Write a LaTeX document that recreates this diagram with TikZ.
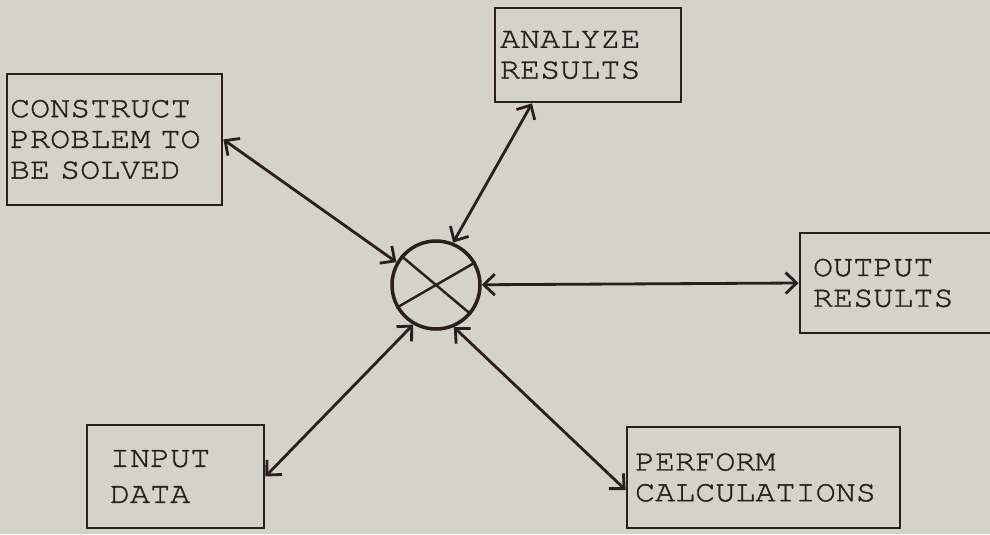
\documentclass[tikz,border=0pt]{standalone}
\usepackage{fontspec}
\setmonofont{texgyrecursor-regular.otf}[FakeBold=1.2, FakeStretch=1.12]
\usetikzlibrary{arrows.meta}
\definecolor{paper}{RGB}{211,211,202}
\definecolor{ink}{RGB}{42,30,30}

\begin{document}
\begin{tikzpicture}[x=0.02cm, y=-0.02cm,
    box/.style={draw=ink, line width=1.6pt, rectangle, align=left, inner ysep=0pt,
      font=\ttfamily\fontsize{17}{17.5}\selectfont, text=ink},
    link/.style={draw=ink, line width=1.6pt,
      {Straight Barb[length=0.22cm,width=0.42cm]}-{Straight Barb[length=0.22cm,width=0.42cm]}}]
  \useasboundingbox (0,0) rectangle (990,534);
  \fill[paper] (0,0) rectangle (990,534);
  \clip (0,0) rectangle (990,534);
  % the five boxes
  \node[box, minimum width=4.30cm, minimum height=2.62cm, inner xsep=0.06cm, text width=4.18cm] (con) at (114.5,139.5) {CONSTRUCT\\PROBLEM TO\\BE SOLVED};
  \node[box, minimum width=3.72cm, minimum height=1.88cm, inner xsep=0.10cm, text width=3.52cm] (ana) at (588,55) {ANALYZE\\RESULTS};
  \node[box, minimum width=4.00cm, minimum height=2.00cm, inner xsep=0.26cm, text width=3.48cm] (out) at (900,283) {OUTPUT\\RESULTS};
  \node[box, minimum width=3.54cm, minimum height=2.06cm, inner xsep=0.46cm, text width=2.62cm] (inp) at (175.5,476.5) {INPUT\\[3pt]DATA};
  \node[box, minimum width=5.46cm, minimum height=2.02cm, inner xsep=0.16cm, text width=5.14cm] (per) at (763.5,477.5) {PERFORM\\CALCULATIONS};
  % summing junction
  \node[draw=ink, line width=2pt, circle, minimum size=1.76cm, inner sep=0pt] (c) at (436,285) {};
  \draw[ink, line width=1.4pt] (c.140) -- (c.-40) (c.210) -- (c.30);
  % connectors
  \draw[link] (con.east) -- (c.150);
  \draw[link] ([xshift=-1.12cm]ana.south) -- (c.68);
  \draw[link] (c) -- (out.west);
  \draw[link] (c.-120) -- (inp.east);
  \draw[link] (c.-67) -- ([yshift=-0.25cm]per.west);
\end{tikzpicture}
\end{document}
